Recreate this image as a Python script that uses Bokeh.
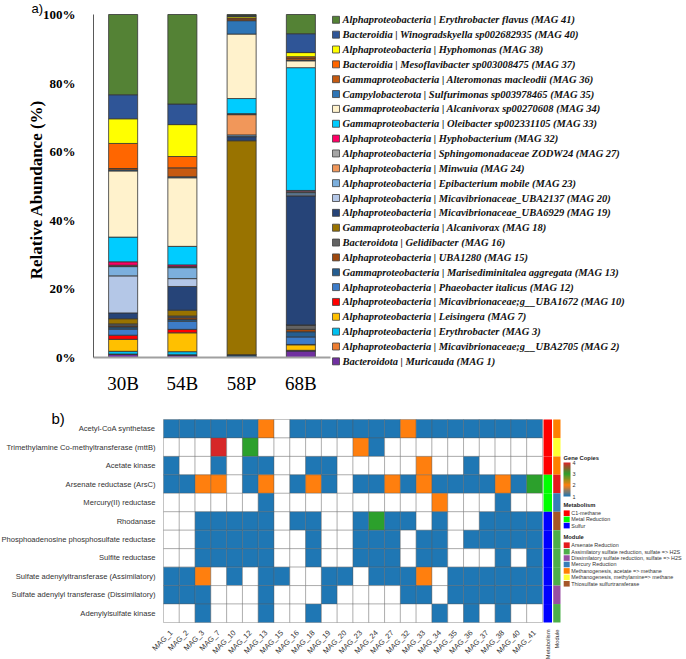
import math
from bokeh.plotting import figure
from bokeh.models import (ColumnDataSource, Range1d, LinearAxis, PrintfTickFormatter,
                          FixedTicker, LinearColorMapper, ColorBar)
from bokeh.core.properties import value
from bokeh.layouts import column
from bokeh.embed import file_html
from bokeh.resources import INLINE

# ---------------- panel a data ----------------
samples = ["30B", "54B", "58P", "68B"]
mag_ids = ["MAG 1", "MAG 2", "MAG 3", "MAG 7", "MAG 10", "MAG 12", "MAG 13", "MAG 15",
           "MAG 16", "MAG 18", "MAG 19", "MAG 20", "MAG 23", "MAG 24", "MAG 27", "MAG 32",
           "MAG 33", "MAG 34", "MAG 35", "MAG 36", "MAG 37", "MAG 38", "MAG 40", "MAG 41"]
taxa = [
    "Bacteroidota | Muricauda (MAG 1)",
    "Alphaproteobacteria | Micavibrionaceae;g__UBA2705 (MAG 2)",
    "Alphaproteobacteria | Erythrobacter (MAG 3)",
    "Alphaproteobacteria | Leisingera (MAG 7)",
    "Alphaproteobacteria | Micavibrionaceae;g__UBA1672 (MAG 10)",
    "Alphaproteobacteria | Phaeobacter italicus (MAG 12)",
    "Gammaproteobacteria | Marisediminitalea aggregata (MAG 13)",
    "Alphaproteobacteria | UBA1280 (MAG 15)",
    "Bacteroidota | Gelidibacter (MAG 16)",
    "Gammaproteobacteria | Alcanivorax (MAG 18)",
    "Alphaproteobacteria | Micavibrionaceae_UBA6929 (MAG 19)",
    "Alphaproteobacteria | Micavibrionaceae_UBA2137 (MAG 20)",
    "Alphaproteobacteria | Epibacterium mobile (MAG 23)",
    "Alphaproteobacteria | Minwuia (MAG 24)",
    "Alphaproteobacteria | Sphingomonadaceae ZODW24 (MAG 27)",
    "Alphaproteobacteria | Hyphobacterium (MAG 32)",
    "Gammaproteobacteria | Oleibacter sp002331105 (MAG 33)",
    "Gammaproteobacteria | Alcanivorax sp00270608 (MAG 34)",
    "Campylobacterota | Sulfurimonas sp003978465 (MAG 35)",
    "Gammaproteobacteria | Alteromonas macleodii (MAG 36)",
    "Bacteroidia | Mesoflavibacter sp003008475 (MAG 37)",
    "Alphaproteobacteria | Hyphomonas (MAG 38)",
    "Bacteroidia | Winogradskyella sp002682935 (MAG 40)",
    "Alphaproteobacteria | Erythrobacter flavus (MAG 41)",
]
mag_colors = ["#7030A0", "#ED7D31", "#00C0F0", "#FFC000", "#FF0000", "#3D7CC9", "#255E91",
              "#9E480E", "#636363", "#997300", "#264478", "#B4C7E7", "#7CAFDD", "#F1975A",
              "#A5A5A5", "#FF0066", "#00CCFF", "#FFF2CC", "#2E75B6", "#C55A11", "#FF6600",
              "#FFFF00", "#2F5597", "#548235"]

# relative abundance (%) per sample, in mag_ids order (bottom -> top of each bar)
ab_30B = [0.9, 0.1, 0.8, 3.5, 1.2, 1.8, 0.6, 0.3, 0.6, 1.5, 1.7, 10.8,
          2.7, 0.1, 0.3, 1.0, 7.2, 19.3, 0.3, 0.4, 7.3, 7.2, 7.0, 23.4]
ab_54B = [0.7, 0.1, 0.9, 5.5, 1.0, 2.4, 0.5, 0.5, 0.5, 1.7, 6.9, 2.3,
          3.2, 0.1, 0.2, 0.5, 5.4, 20.0, 0.3, 2.6, 3.3, 9.3, 6.0, 26.1]
ab_58P = [0.1, 0.0, 0.0, 0.0, 0.0, 0.0, 0.7, 0.0, 0.0, 62.4, 1.2, 0.0,
          0.5, 5.9, 0.2, 0.1, 4.4, 18.8, 3.9, 0.5, 0.3, 0.4, 0.3, 0.3]
ab_68B = [1.9, 0.1, 0.1, 1.6, 0.1, 2.2, 1.5, 0.7, 1.3, 0.0, 37.6, 0.3,
          0.6, 0.1, 0.4, 0.2, 35.8, 2.0, 0.2, 0.6, 0.4, 1.2, 5.5, 5.6]
y_ticks = [0, 20, 40, 60, 80, 100]

# ---------------- panel b data ----------------
genes = ["Acetyl-CoA synthetase",
         "Trimethylamine Co-methyltransferase (mttB)",
         "Acetate kinase",
         "Arsenate reductase (ArsC)",
         "Mercury(II) reductase",
         "Rhodanase",
         "Phosphoadenosine phosphosulfate reductase",
         "Sulfite reductase",
         "Sulfate adenylyltransferase (Assimilatory)",
         "Sulfate adenylyl transferase (Dissimilatory)",
         "Adenylylsulfate kinase"]
mag_cols = ["MAG_1", "MAG_2", "MAG_3", "MAG_7", "MAG_10", "MAG_12", "MAG_13", "MAG_15",
            "MAG_16", "MAG_18", "MAG_19", "MAG_20", "MAG_23", "MAG_24", "MAG_27", "MAG_32",
            "MAG_33", "MAG_34", "MAG_35", "MAG_36", "MAG_37", "MAG_38", "MAG_40", "MAG_41"]
gc_acetyl_coa = [1, 1, 1, 1, 1, 1, 2, 0, 1, 1, 1, 1, 1, 1, 1, 2, 1, 1, 1, 1, 1, 1, 1, 1]
gc_mttb =       [0, 0, 0, 4, 0, 3, 0, 0, 0, 0, 0, 0, 2, 1, 0, 0, 0, 0, 0, 0, 0, 0, 0, 0]
gc_ack =        [1, 0, 0, 1, 0, 1, 1, 0, 0, 1, 1, 0, 0, 0, 0, 0, 2, 0, 0, 1, 0, 0, 0, 0]
gc_arsc =       [1, 1, 2, 2, 0, 1, 2, 0, 1, 2, 1, 0, 1, 1, 2, 1, 2, 1, 1, 1, 1, 2, 1, 3]
gc_mera =       [0, 0, 0, 0, 0, 0, 1, 0, 0, 0, 0, 0, 0, 0, 0, 0, 0, 2, 0, 0, 0, 1, 0, 0]
gc_rhod =       [0, 0, 1, 1, 1, 1, 1, 0, 1, 1, 0, 0, 1, 3, 1, 1, 0, 1, 0, 0, 1, 1, 1, 1]
gc_paps =       [0, 0, 1, 1, 1, 1, 1, 0, 0, 1, 0, 0, 1, 1, 1, 0, 1, 1, 0, 1, 1, 1, 1, 1]
gc_sir =        [0, 0, 1, 1, 1, 1, 1, 0, 0, 1, 0, 0, 1, 1, 1, 0, 1, 1, 0, 0, 0, 1, 0, 1]
gc_sat_assim =  [1, 1, 2, 0, 1, 0, 1, 1, 0, 0, 1, 1, 0, 1, 1, 1, 2, 0, 1, 1, 1, 1, 1, 1]
gc_sat_dissim = [1, 1, 1, 0, 0, 0, 1, 0, 0, 0, 1, 0, 0, 0, 0, 1, 1, 0, 1, 1, 1, 1, 1, 1]
gc_apsk =       [0, 0, 1, 0, 0, 0, 1, 0, 0, 1, 0, 0, 0, 0, 0, 0, 0, 1, 0, 1, 0, 1, 0, 0]
gene_copies = [gc_acetyl_coa, gc_mttb, gc_ack, gc_arsc, gc_mera, gc_rhod, gc_paps,
               gc_sir, gc_sat_assim, gc_sat_dissim, gc_apsk]
metabolism = ["C1-methane", "C1-methane", "C1-methane", "Metal Reduction", "Metal Reduction",
              "Sulfur", "Sulfur", "Sulfur", "Sulfur", "Sulfur", "Sulfur"]
module = ["Methanogenesis, acetate => methane", "Methanogenesis, methylamine=> methane",
          "Methanogenesis, acetate => methane", "Arsenate Reduction", "Mercury Reduction",
          "Thiosulfate sulfurtransferase", "Assimilatory sulfate reduction, sulfate => H2S",
          "Assimilatory sulfate reduction, sulfate => H2S",
          "Assimilatory sulfate reduction, sulfate => H2S",
          "Dissimilatory sulfate reduction, sulfate => H2S",
          "Assimilatory sulfate reduction, sulfate => H2S"]
metabolism_names = ["C1-methane", "Metal Reduction", "Sulfur"]
metabolism_colors = {"C1-methane": "#FF0000", "Metal Reduction": "#00FF00", "Sulfur": "#0000FF"}
module_names = ["Arsenate Reduction", "Assimilatory sulfate reduction, sulfate => H2S",
                "Dissimilatory sulfate reduction, sulfate => H2S", "Mercury Reduction",
                "Methanogenesis, acetate => methane", "Methanogenesis, methylamine=> methane",
                "Thiosulfate sulfurtransferase"]
module_colors = {"Arsenate Reduction": "#E41A1C",
                 "Assimilatory sulfate reduction, sulfate => H2S": "#4DAF4A",
                 "Dissimilatory sulfate reduction, sulfate => H2S": "#984EA3",
                 "Mercury Reduction": "#377EB8",
                 "Methanogenesis, acetate => methane": "#FF7F00",
                 "Methanogenesis, methylamine=> methane": "#FFFF33",
                 "Thiosulfate sulfurtransferase": "#A65628"}
copy_palette = ["#1F77B4", "#FF7F0E", "#2CA02C", "#D62728"]  # 1,2,3,4 copies
copy_ticks = [1, 2, 3, 4]

SERIF = "Liberation Serif"
SANS = "Liberation Sans"

# ================= panel a =================
WA, HA = 686, 392
BAR_L, BAR_R, Y0_PX, Y100_PX = 93, 330, 357, 14
unit = (BAR_R - BAR_L) / len(samples)
ppp = (Y0_PX - Y100_PX) / 100.0

data = {"x": list(range(len(samples)))}
per_sample = [ab_30B, ab_54B, ab_58P, ab_68B]
for j, m in enumerate(mag_ids):
    data[m] = [vals[j] for vals in per_sample]
src = ColumnDataSource(data)

pa = figure(width=WA, height=HA, title=None,
            x_range=Range1d(-0.5 - BAR_L / unit, -0.5 + (WA - BAR_L) / unit),
            y_range=Range1d(-(HA - Y0_PX) / ppp, 100 + Y100_PX / ppp),
            output_backend="svg", toolbar_location=None, min_border=0)
pa.extra_x_ranges = {"px": Range1d(0, WA)}
pa.extra_y_ranges = {"px": Range1d(HA, 0)}
pa.outline_line_color = None
pa.xgrid.visible = False
pa.ygrid.visible = False

rends = pa.vbar_stack(mag_ids, x="x", width=0.49, fill_color=mag_colors,
                      line_color="#333333", line_width=0.8, source=src)

pa.yaxis.fixed_location = -0.5
pa.yaxis.bounds = (0, 100)
pa.yaxis.ticker = FixedTicker(ticks=y_ticks)
pa.yaxis.formatter = PrintfTickFormatter(format="%d%%")
pa.yaxis.major_label_text_font = SERIF
pa.yaxis.major_label_text_font_style = "bold"
pa.yaxis.major_label_text_font_size = "13px"
pa.yaxis.major_label_text_color = "#000000"
pa.yaxis.major_label_standoff = 12
pa.yaxis.major_tick_line_color = None
pa.yaxis.minor_tick_line_color = None
pa.yaxis.axis_line_color = "#595959"

pa.xaxis.fixed_location = 0
pa.xaxis.bounds = (-0.5, len(samples) - 0.5)
pa.xaxis.ticker = FixedTicker(ticks=list(range(len(samples))))
pa.xaxis.major_label_overrides = {i: s for i, s in enumerate(samples)}
pa.xaxis.major_label_text_font = SERIF
pa.xaxis.major_label_text_font_size = "19px"
pa.xaxis.major_label_text_color = "#000000"
pa.xaxis.major_label_standoff = 9
pa.xaxis.major_tick_line_color = None
pa.xaxis.minor_tick_line_color = None
pa.xaxis.axis_line_color = "#A0A0A0"
pa.xaxis.axis_line_width = 2

# y axis title and panel tag
pa.text(x=[36], y=[189], text=["Relative Abundance (%)"], angle=math.pi / 2,
        x_range_name="px", y_range_name="px", text_font=value(SERIF),
        text_font_style="bold", text_font_size="17px", text_color="#000000",
        text_align="center", text_baseline="middle")
pa.text(x=[31], y=[0], text=["a)"], x_range_name="px", y_range_name="px",
        text_font=value(SANS), text_font_size="13px", text_color="#000000",
        text_align="left", text_baseline="top")

# legend (top entry = last stacked series)
order = list(reversed(range(len(mag_ids))))
LEG_X, LEG_Y0, LEG_DY = 335.5, 19.3, 14.85
leg_src = ColumnDataSource(dict(
    x=[LEG_X] * len(order),
    y=[LEG_Y0 + k * LEG_DY for k in range(len(order))],
    tx=[LEG_X + 6.5] * len(order),
    c=[mag_colors[i] for i in order],
    t=[taxa[i] for i in order]))
pa.rect(x="x", y="y", width=7, height=7, fill_color="c", line_color="#404040",
        line_width=0.8, source=leg_src, x_range_name="px", y_range_name="px")
pa.text(x="tx", y="y", text="t", source=leg_src, x_range_name="px", y_range_name="px",
        text_font=value(SERIF), text_font_style="bold italic", text_font_size="10.5px",
        text_color="#111111", text_align="left", text_baseline="middle")

# ================= panel b =================
WB, HB = 686, 267
HM_L, HM_R, HM_T, HM_B = 163, 542, 27, 230
cw = (HM_R - HM_L) / len(mag_cols)
rh = (HM_B - HM_T) / len(genes)
nr = len(genes)

xs, ys, vs = [], [], []
for r in range(nr):
    for c in range(len(mag_cols)):
        xs.append(c)
        ys.append(nr - 1 - r)
        vs.append(gene_copies[r][c])
hsrc = ColumnDataSource(dict(x=xs, y=ys, v=vs))
cell_mapper = LinearColorMapper(palette=copy_palette, low=0.5, high=4.5, low_color="white")

pb = figure(width=WB, height=HB, title=None,
            x_range=Range1d(-0.5 - HM_L / cw, -0.5 + (WB - HM_L) / cw),
            y_range=Range1d(-0.5 - (HB - HM_B) / rh, nr - 0.5 + HM_T / rh),
            output_backend="svg", toolbar_location=None, min_border=0)
pb.extra_x_ranges = {"px": Range1d(0, WB)}
pb.extra_y_ranges = {"px": Range1d(HB, 0)}
pb.outline_line_color = None
pb.xgrid.visible = False
pb.ygrid.visible = False

pb.rect(x="x", y="y", width=1, height=1, source=hsrc,
        fill_color={"field": "v", "transform": cell_mapper},
        line_color="#555555", line_alpha=0.35, line_width=1)

MET_X, MOD_X = 547, 556
side = ColumnDataSource(dict(
    y=[nr - 1 - r for r in range(nr)],
    met_c=[metabolism_colors[m] for m in metabolism],
    mod_c=[module_colors[m] for m in module]))
pb.rect(x=MET_X + 0.25, y="y", width=8.5, height=1, fill_color="met_c", line_color=None,
        source=side, x_range_name="px")
pb.rect(x=MOD_X + 0.35, y="y", width=7.3, height=1, fill_color="mod_c", line_color=None,
        source=side, x_range_name="px")

pb.xaxis.fixed_location = -0.5
pb.xaxis.ticker = FixedTicker(ticks=list(range(len(mag_cols))))
pb.xaxis.major_label_overrides = {i: n for i, n in enumerate(mag_cols)}
pb.xaxis.major_label_orientation = math.pi / 4
pb.xaxis.major_label_text_font = SANS
pb.xaxis.major_label_text_font_size = "7.5px"
pb.xaxis.major_label_text_color = "#333333"
pb.xaxis.major_label_standoff = 3
pb.xaxis.major_tick_line_color = None
pb.xaxis.minor_tick_line_color = None
pb.xaxis.axis_line_color = None

pb.yaxis.fixed_location = -0.5
pb.yaxis.ticker = FixedTicker(ticks=list(range(nr)))
pb.yaxis.major_label_overrides = {nr - 1 - r: g for r, g in enumerate(genes)}
pb.yaxis.major_label_text_font = SANS
pb.yaxis.major_label_text_font_size = "7.6px"
pb.yaxis.major_label_text_color = "#333333"
pb.yaxis.major_label_standoff = 2
pb.yaxis.major_tick_line_color = None
pb.yaxis.minor_tick_line_color = None
pb.yaxis.axis_line_color = None

side_axis = LinearAxis(x_range_name="px", fixed_location=-0.5,
                       ticker=FixedTicker(ticks=[MET_X, MOD_X]),
                       major_label_overrides={MET_X: "Metabolism", MOD_X: "Module"},
                       major_label_orientation=math.pi / 2,
                       major_label_text_font=SANS, major_label_text_font_size="5.8px",
                       major_label_text_color="#333333", major_label_standoff=1,
                       major_tick_line_color=None, minor_tick_line_color=None,
                       axis_line_color=None)
pb.add_layout(side_axis, "below")

pb.text(x=[51], y=[17], text=["b)"], x_range_name="px", y_range_name="px",
        text_font=value(SANS), text_font_size="15px", text_color="#000000",
        text_align="left", text_baseline="top")


def _hex(c):
    return tuple(int(c[i:i + 2], 16) for i in (1, 3, 5))


grad = []
for k in range(3):
    a, b = _hex(copy_palette[k]), _hex(copy_palette[k + 1])
    for t in range(20):
        f = t / 20
        grad.append("#%02x%02x%02x" % tuple(int(a[i] + (b[i] - a[i]) * f) for i in range(3)))
grad.append(copy_palette[-1])

LX = 563
cb = ColorBar(color_mapper=LinearColorMapper(palette=grad, low=1, high=4),
              location=(LX, HB - 104), orientation="vertical", width=7, height=34,
              padding=0, margin=0, ticker=FixedTicker(ticks=copy_ticks),
              major_label_text_font=SANS, major_label_text_font_size="5.5px",
              major_label_text_color="#333333", label_standoff=2,
              major_tick_line_color=None, bar_line_color=None,
              background_fill_alpha=0, border_line_color=None)
pb.add_layout(cb, "center")

# legend titles
pb.text(x=[LX, LX, LX], y=[65, 112, 144.5], text=["Gene Copies", "Metabolism", "Module"],
        x_range_name="px", y_range_name="px", text_font=value(SANS),
        text_font_style="bold", text_font_size="5.8px", text_color="#222222",
        text_align="left", text_baseline="middle")
# legend entries
ly = [120.7 + k * 6.2 for k in range(len(metabolism_names))] + \
     [152.7 + k * 6.43 for k in range(len(module_names))]
lsrc = ColumnDataSource(dict(
    x=[LX + 3.2] * len(ly), tx=[LX + 7.8] * len(ly), y=ly,
    c=[metabolism_colors[n] for n in metabolism_names] + [module_colors[n] for n in module_names],
    t=metabolism_names + module_names))
pb.rect(x="x", y="y", width=6, height=5.6, fill_color="c", line_color=None, source=lsrc,
        x_range_name="px", y_range_name="px")
pb.text(x="tx", y="y", text="t", source=lsrc, x_range_name="px", y_range_name="px",
        text_font=value(SANS), text_font_size="5.4px", text_color="#333333",
        text_align="left", text_baseline="middle")

layout = column(pa, pb)
open("out.html", "w").write(file_html(layout, INLINE, title="MAG abundance and genes"))
